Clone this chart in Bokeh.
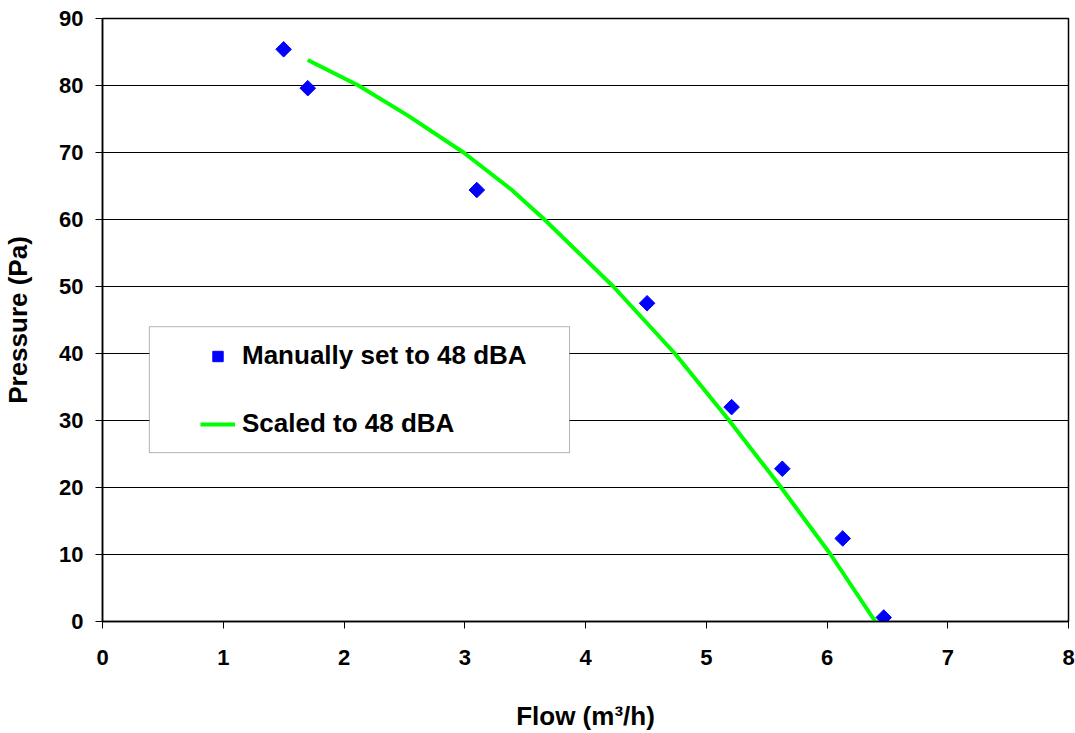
from bokeh.plotting import figure
from bokeh.models import Legend, LegendItem, BoxAnnotation, FixedTicker
from bokeh.embed import file_html
from bokeh.resources import INLINE
import math

# Measured data: manually set to 48 dBA
manual_flow = [1.50, 1.70, 3.10, 4.51, 5.21, 5.63, 6.13, 6.47]
manual_pressure = [85.4, 79.6, 64.4, 47.5, 32.0, 22.8, 12.4, 0.6]

# Scaled curve to 48 dBA
scaled_flow = [1.70, 2.12, 2.53, 2.99, 3.39, 3.66, 4.23, 4.74, 5.19, 5.62, 6.03, 6.40, 6.45]
scaled_pressure = [83.8, 80.0, 75.5, 70.0, 64.4, 60.0, 50.0, 40.0, 30.0, 20.0, 10.0, 0.0, -1.2]

x_ticks = [0, 1, 2, 3, 4, 5, 6, 7, 8]
y_ticks = [0, 10, 20, 30, 40, 50, 60, 70, 80, 90]

FONT = "Liberation Sans"

p = figure(width=1075, height=733, x_range=(0, 8), y_range=(0, 90),
           output_backend="svg", toolbar_location=None,
           min_border_left=100, min_border_right=7, min_border_top=18, min_border_bottom=111)

p.background_fill_color = "white"
p.border_fill_color = "white"
p.outline_line_color = "black"
p.outline_line_width = 1.5

p.xgrid.visible = False
p.ygrid.grid_line_color = "black"
p.ygrid.grid_line_width = 1
p.ygrid.ticker = FixedTicker(ticks=y_ticks)

p.xaxis.ticker = FixedTicker(ticks=x_ticks)
p.yaxis.ticker = FixedTicker(ticks=y_ticks)

for ax in (p.xaxis[0], p.yaxis[0]):
    ax.axis_line_color = "black"
    ax.axis_line_width = 1.5
    ax.major_tick_line_color = "black"
    ax.major_tick_out = 7
    ax.major_tick_in = 0
    ax.minor_tick_out = 0
    ax.minor_tick_in = 0
    ax.major_label_text_font = FONT
    ax.major_label_text_font_style = "bold"
    ax.major_label_text_font_size = "22px"
    ax.major_label_text_color = "black"
    ax.axis_label_text_font = FONT
    ax.axis_label_text_font_style = "bold"
    ax.axis_label_text_font_size = "26px"
    ax.axis_label_text_color = "black"

p.xaxis.axis_label = "Flow (m³/h)"
p.yaxis.axis_label = "Pressure (Pa)"
p.xaxis.major_label_standoff = 21
p.xaxis.axis_label_standoff = 33
p.yaxis.major_label_standoff = 12
p.yaxis.axis_label_standoff = 23

line_r = p.line(scaled_flow, scaled_pressure, line_color="#00FF00", line_width=4)
pts_r = p.scatter(manual_flow, manual_pressure, marker="square", angle=math.pi / 4,
                  size=11, fill_color="#0000FF", line_color="#0000FF")

# legend box
box = BoxAnnotation(left=0.388, right=3.868, bottom=25.2, top=44.0,
                    fill_color="white", fill_alpha=1.0,
                    line_color="black", line_width=1, level="annotation")
p.add_layout(box)

legend = Legend(items=[LegendItem(label="Manually set to 48 dBA", renderers=[pts_r]),
                       LegendItem(label="Scaled to 48 dBA", renderers=[line_r])],
                location=(98, 182), orientation="vertical",
                padding=0, margin=0, spacing=37,
                glyph_width=35, glyph_height=26, label_standoff=7,
                label_text_font=FONT, label_text_font_style="bold",
                label_text_font_size="26px", label_text_color="black",
                background_fill_alpha=0, border_line_alpha=0)
p.add_layout(legend, "center")

open("out.html", "w").write(file_html(p, INLINE))
